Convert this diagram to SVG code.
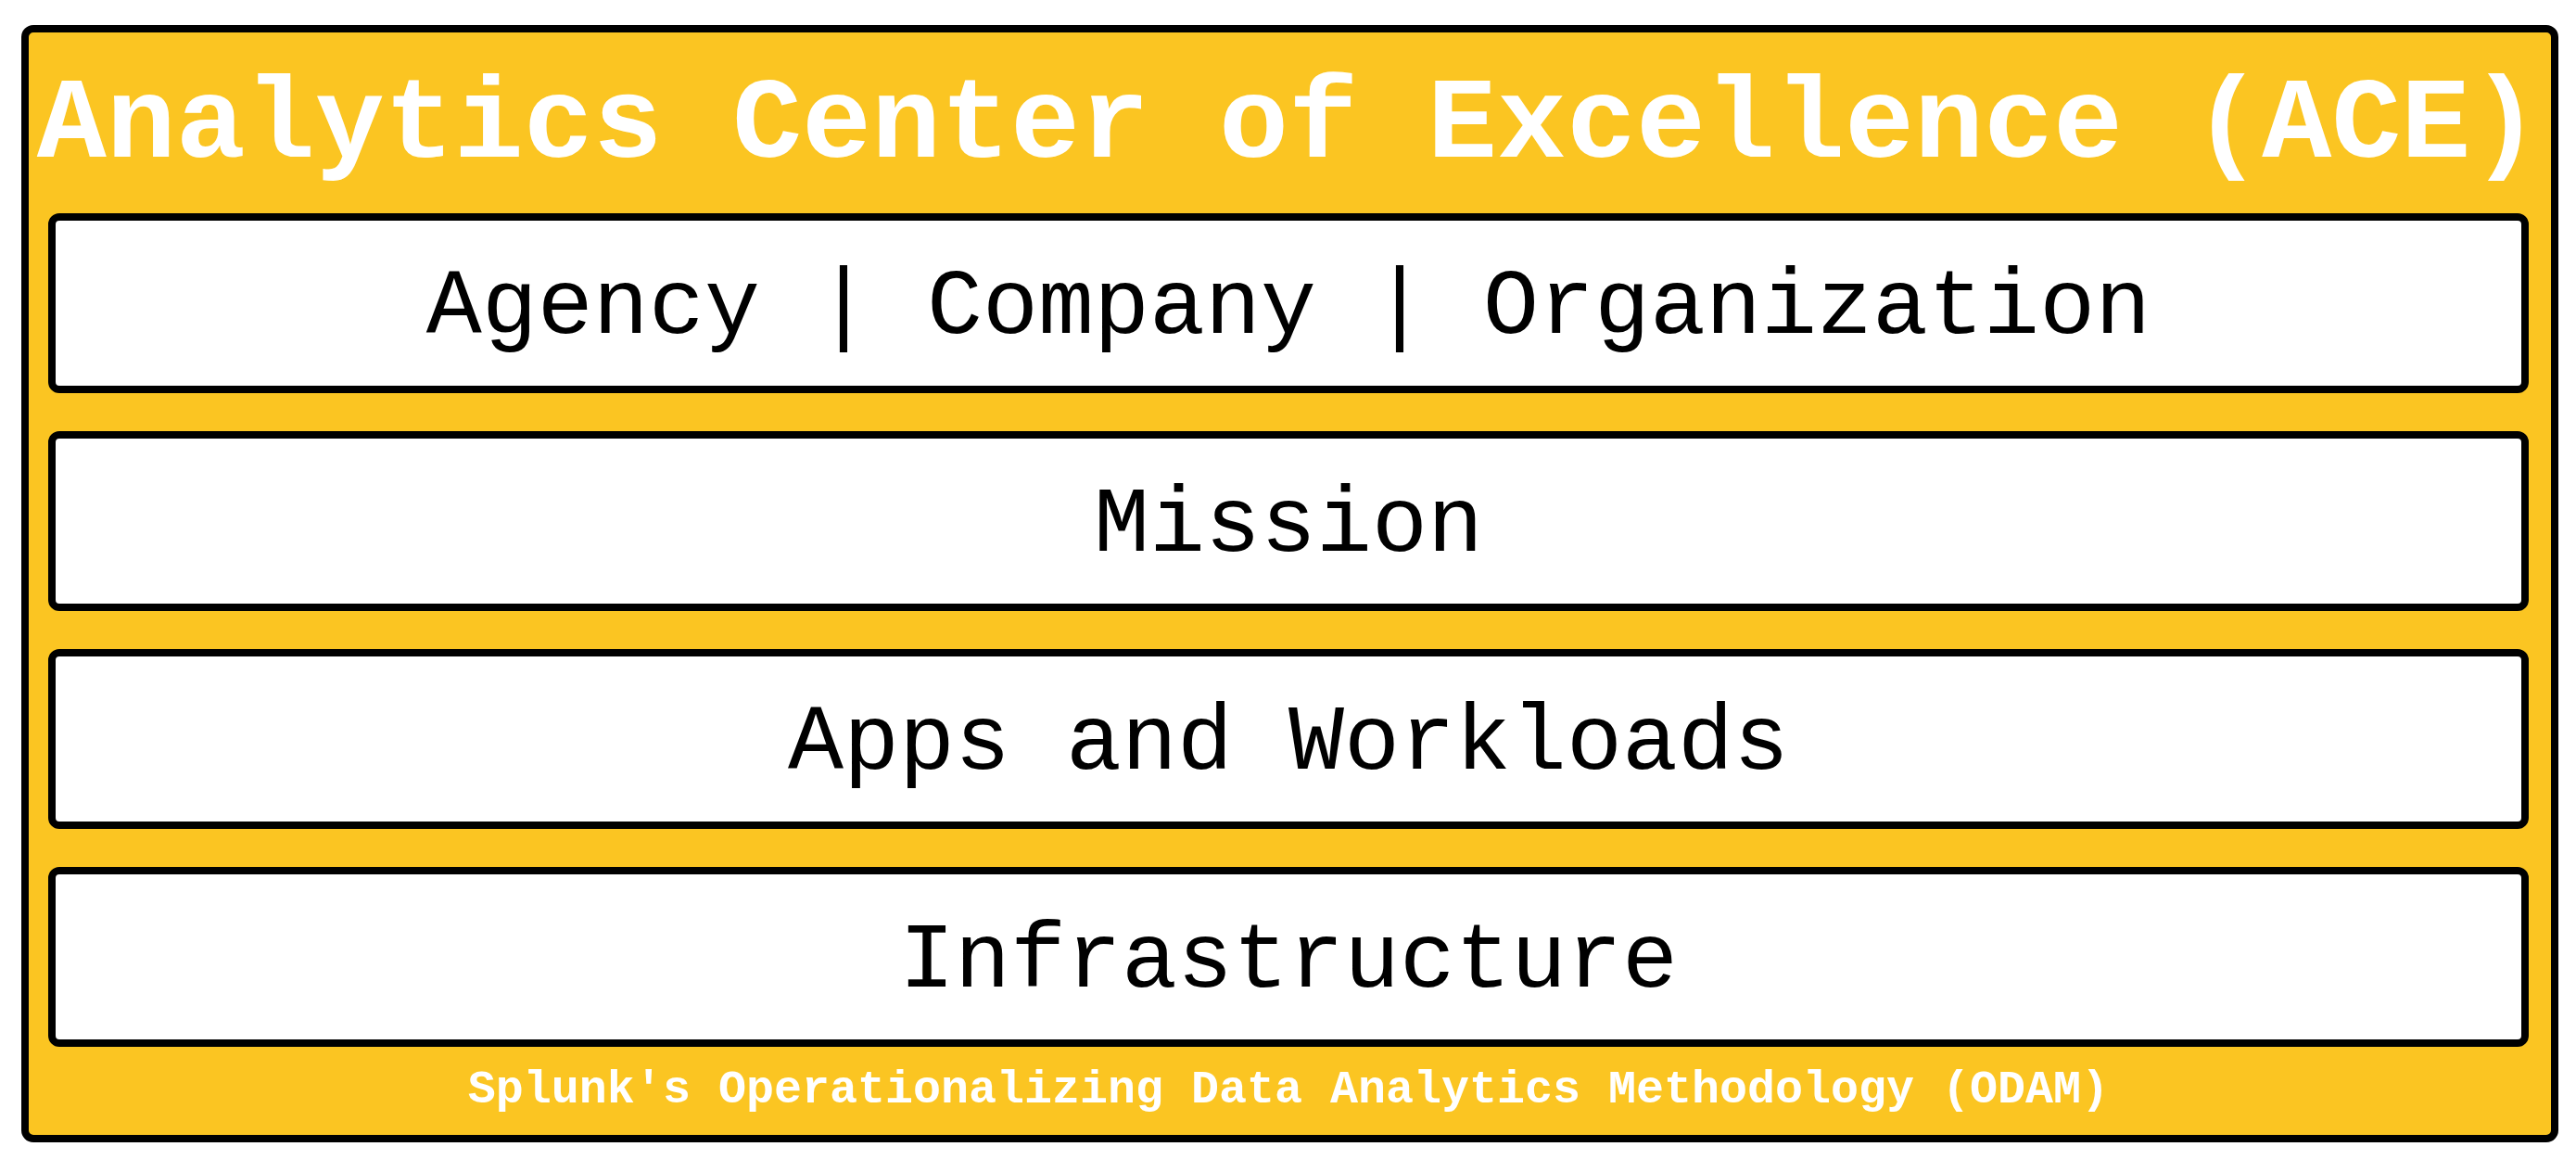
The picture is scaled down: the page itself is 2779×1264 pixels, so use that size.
<svg xmlns="http://www.w3.org/2000/svg" width="2779" height="1264" viewBox="0 0 2779 1264">
<style>
.outer{fill:#FBC522;stroke:#000;stroke-width:8}
.box{fill:#fff;stroke:#000;stroke-width:8}
.lbl{font-family:"Liberation Mono","DejaVu Sans Mono",monospace;font-size:100px;fill:#000;text-anchor:middle}
.title{font-family:"Liberation Mono","DejaVu Sans Mono",monospace;font-size:125px;font-weight:bold;fill:#fff;text-anchor:middle}
.foot{font-family:"Liberation Mono","DejaVu Sans Mono",monospace;font-size:50px;font-weight:bold;fill:#fff;text-anchor:middle}
</style>
<rect width="2779" height="1264" fill="#fff"/>
<g id="ace">
<rect class="outer" x="27" y="31" width="2729" height="1197" rx="9"/>
<text class="title" x="1390" y="169">Analytics Center of Excellence (ACE)</text>
<text class="foot" x="1390" y="1189">Splunk's Operationalizing Data Analytics Methodology (ODAM)</text>
</g>
<g id="org">
<rect class="box" x="56" y="234" width="2668" height="186" rx="8"/>
<text class="lbl" x="1390" y="359">Agency | Company | Organization</text>
</g>
<g id="mission">
<rect class="box" x="56" y="469" width="2668" height="186" rx="8"/>
<text class="lbl" x="1390" y="594">Mission</text>
</g>
<g id="apps">
<rect class="box" x="56" y="704" width="2668" height="186" rx="8"/>
<text class="lbl" x="1390" y="829">Apps and Workloads</text>
</g>
<g id="infra">
<rect class="box" x="56" y="939" width="2668" height="186" rx="8"/>
<text class="lbl" x="1390" y="1064">Infrastructure</text>
</g>
<g id="connectors"/>
</svg>
